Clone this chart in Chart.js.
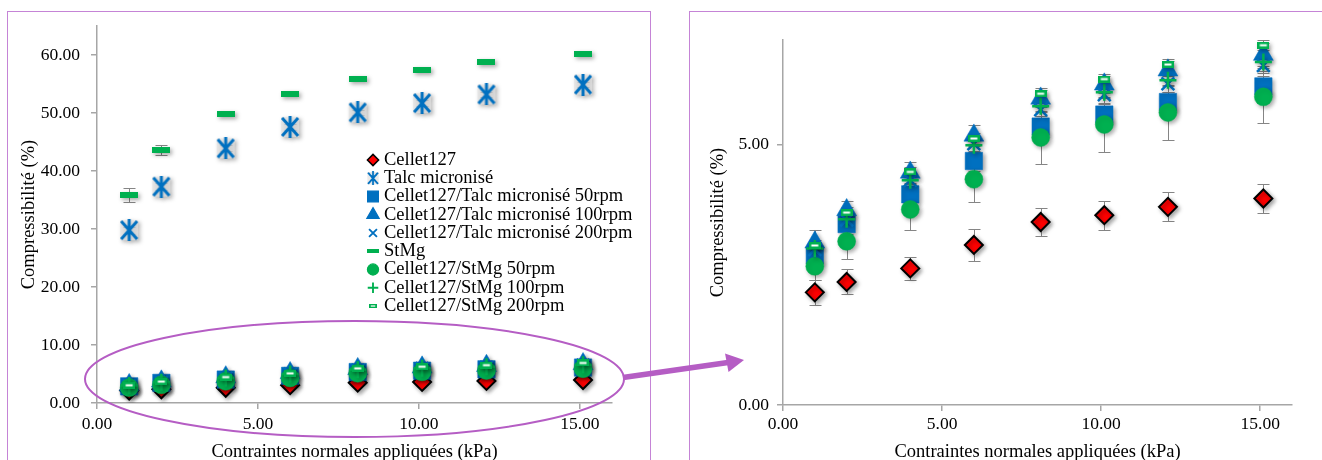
<!DOCTYPE html>
<html lang="fr">
<head>
<meta charset="utf-8">
<title>Compressibilité</title>
<script src="https://cdn.jsdelivr.net/npm/chart.js@4.4.1/dist/chart.umd.min.js"></script>
<style>
  html, body { margin: 0; padding: 0; background: #fff; }
  body { width: 1322px; height: 460px; overflow: hidden; position: relative; }
  .frame { position: absolute; border: 1.5px solid #c584d6; border-bottom: none; }
  #frameLeft { left: 7px; top: 11px; width: 642px; height: 470px; }
  #frameRight { left: 689px; top: 11px; width: 700px; height: 470px; border-right: none; }
  .chartBox { position: absolute; top: 0; height: 463px; }
  #boxLeft { left: 0; width: 660px; }
  #boxRight { left: 660px; width: 662px; }
  #overlay { position: absolute; left: 0; top: 0; pointer-events: none; }
</style>
</head>
<body>
<div class="frame" id="frameLeft"></div>
<div class="frame" id="frameRight"></div>
<div class="chartBox" id="boxLeft"><canvas id="chartLeft"></canvas></div>
<div class="chartBox" id="boxRight"><canvas id="chartRight"></canvas></div>
<svg id="overlay" width="1322" height="460">
  <ellipse cx="354.5" cy="379" rx="269.5" ry="58" fill="none" stroke="#b55dc4" stroke-width="2"/>
  <line x1="623" y1="377.5" x2="728" y2="362.5" stroke="#b55dc4" stroke-width="5.5"/>
  <polygon points="744,360 725,353.5 728.5,372" fill="#b55dc4"/>
</svg>
<script>
// applied normal stress (kPa)
const pressures = [1, 2, 4, 6, 8.1, 10.1, 12.1, 15.1];

const seriesNames = [
  'Cellet127',
  'Talc micronisé',
  'Cellet127/Talc micronisé 50rpm',
  'Cellet127/Talc micronisé 100rpm',
  'Cellet127/Talc micronisé 200rpm',
  'StMg',
  'Cellet127/StMg 50rpm',
  'Cellet127/StMg 100rpm',
  'Cellet127/StMg 200rpm'
];

// compressibility (%) and standard deviations
const cellet127 = [2.16, 2.36, 2.62, 3.07, 3.51, 3.64, 3.80, 3.96];
const cellet127Err = [0.24, 0.24, 0.22, 0.30, 0.27, 0.28, 0.28, 0.27];
const talc = [29.8, 37.3, 43.9, 47.6, 50.1, 51.7, 53.2, 54.9];
const talcErr = [0.6, 0.6, 0.5, 0.5, 0.5, 0.5, 0.5, 0.5];
const talc50 = [2.87, 3.47, 4.04, 4.68, 5.34, 5.57, 5.81, 6.11];
const talc50Err = [0.22, 0.2, 0.2, 0.2, 0.2, 0.2, 0.2, 0.2];
const talc100 = [3.12, 3.74, 4.46, 5.17, 5.88, 6.15, 6.42, 6.72];
const talc100Err = [0.24, 0.17, 0.2, 0.2, 0.17, 0.16, 0.18, 0.22];
const talc200 = [2.98, 3.55, 4.31, 5.01, 5.66, 5.95, 6.16, 6.51];
const talc200Err = [0.15, 0.15, 0.15, 0.15, 0.15, 0.15, 0.15, 0.15];
const stmg = [35.9, 43.6, 49.9, 53.3, 55.9, 57.5, 58.75, 60.2];
const stmgErr = [1.25, 0.8, 0.4, 0.4, 0.3, 0.3, 0.3, 0.3];
const stmg50 = [2.66, 3.14, 3.75, 4.33, 5.13, 5.38, 5.61, 5.91];
const stmg50Err = [0.27, 0.34, 0.40, 0.44, 0.50, 0.53, 0.53, 0.50];
const stmg100 = [3.00, 3.56, 4.31, 4.98, 5.73, 6.00, 6.23, 6.58];
const stmg100Err = [0.12, 0.12, 0.12, 0.12, 0.12, 0.12, 0.12, 0.12];
const stmg200 = [3.06, 3.69, 4.47, 5.11, 5.97, 6.25, 6.53, 6.90];
const stmg200Err = [0.1, 0.1, 0.1, 0.1, 0.1, 0.1, 0.1, 0.1];

const seriesValues = [cellet127, talc, talc50, talc100, talc200, stmg, stmg50, stmg100, stmg200];
const seriesErrors = [cellet127Err, talcErr, talc50Err, talc100Err, talc200Err, stmgErr, stmg50Err, stmg100Err, stmg200Err];

const xTitle = 'Contraintes normales appliquées (kPa)';
const yTitle = 'Compressibilité (%)';

const BLUE = '#0070c0';
const GREEN = '#00b050';
const AXIS = '#a6a6a6';
const FONT = '"Liberation Serif", "Times New Roman", serif';

// custom marker pictures
function markerCanvas(w, h, paint) {
  const c = document.createElement('canvas');
  c.width = w; c.height = h;
  paint(c.getContext('2d'));
  return c;
}
const asterisk = markerCanvas(20, 22, function(g) {
  g.fillStyle = 'rgba(225,225,225,0.7)';
  g.fillRect(1, 1, 18, 20);
  g.strokeStyle = BLUE; g.lineWidth = 3;
  g.beginPath();
  g.moveTo(2, 2); g.lineTo(18, 20);
  g.moveTo(18, 2); g.lineTo(2, 20);
  g.moveTo(10, 0); g.lineTo(10, 22);
  g.stroke();
});
const longDash = markerCanvas(18, 6, function(g) {
  g.fillStyle = GREEN; g.fillRect(0, 0, 18, 6);
});
const boxDash = markerCanvas(12, 7, function(g) {
  g.fillStyle = GREEN; g.fillRect(0, 0, 12, 7);
  g.fillStyle = '#fff'; g.fillRect(2.5, 2.5, 7, 2);
});

const markerStyles = [
  { pointStyle: 'rectRot', pointRadius: 9, pointBackgroundColor: '#ff0000', pointBorderColor: '#000', pointBorderWidth: 2 },
  { pointStyle: asterisk, pointRadius: 10, pointBackgroundColor: BLUE, pointBorderColor: BLUE, pointBorderWidth: 0 },
  { pointStyle: 'rect', pointRadius: 12.3, pointBackgroundColor: BLUE, pointBorderColor: BLUE, pointBorderWidth: 0.5 },
  { pointStyle: 'triangle', pointRadius: 11.5, pointBackgroundColor: BLUE, pointBorderColor: BLUE, pointBorderWidth: 0.5 },
  { pointStyle: 'crossRot', pointRadius: 9, pointBackgroundColor: BLUE, pointBorderColor: BLUE, pointBorderWidth: 2.5 },
  { pointStyle: longDash, pointRadius: 9, pointBackgroundColor: GREEN, pointBorderColor: GREEN, pointBorderWidth: 0 },
  { pointStyle: 'circle', pointRadius: 9, pointBackgroundColor: GREEN, pointBorderColor: GREEN, pointBorderWidth: 0.5 },
  { pointStyle: 'cross', pointRadius: 8.5, pointBackgroundColor: GREEN, pointBorderColor: GREEN, pointBorderWidth: 2.5 },
  { pointStyle: boxDash, pointRadius: 6, pointBackgroundColor: GREEN, pointBorderColor: GREEN, pointBorderWidth: 0 }
];

function buildDatasets(indices) {
  return indices.map(function(i) {
    return Object.assign({
      label: seriesNames[i],
      data: pressures.map(function(p, j) { return { x: p, y: seriesValues[i][j] }; }),
      errors: seriesErrors[i],
      order: -i
    }, markerStyles[i]);
  });
}

// error bars under the markers, then an Excel-like soft shadow for the markers
const errorBars = {
  id: 'errorBars',
  beforeDatasetsDraw(chart) {
    const ctx = chart.ctx, xs = chart.scales.x, ys = chart.scales.y;
    ctx.save();
    ctx.strokeStyle = '#858585';
    ctx.lineWidth = 1;
    chart.data.datasets.forEach(function(ds) {
      ds.data.forEach(function(p, j) {
        const e = ds.errors[j];
        const px = Math.round(xs.getPixelForValue(p.x)) + 0.5;
        const top = Math.round(ys.getPixelForValue(p.y + e)) + 0.5;
        const bot = Math.round(ys.getPixelForValue(p.y - e)) + 0.5;
        ctx.beginPath();
        ctx.moveTo(px, top); ctx.lineTo(px, bot);
        ctx.moveTo(px - 6, top); ctx.lineTo(px + 6, top);
        ctx.moveTo(px - 6, bot); ctx.lineTo(px + 6, bot);
        ctx.stroke();
      });
    });
    ctx.shadowColor = 'rgba(0,0,0,0.35)';
    ctx.shadowBlur = 4;
    ctx.shadowOffsetX = 2;
    ctx.shadowOffsetY = 2;
  },
  afterDatasetsDraw(chart) {
    chart.ctx.restore();
  }
};

// legend sitting inside the plot of the left chart
const insideLegend = {
  id: 'insideLegend',
  afterDraw(chart, args, opts) {
    const ctx = chart.ctx;
    ctx.save();
    ctx.font = '18.5px ' + FONT;
    ctx.textBaseline = 'middle';
    ctx.fillStyle = '#000';
    chart.data.datasets.forEach(function(ds, i) {
      const y = opts.top + i * opts.step;
      const k = 0.62;
      ctx.save();
      ctx.fillStyle = ds.pointBackgroundColor;
      ctx.strokeStyle = ds.pointBorderColor;
      ctx.lineWidth = ds.pointBorderWidth ? Math.max(1.2, ds.pointBorderWidth * 0.75) : 0;
      if (typeof ds.pointStyle !== 'string') {
        const s = ds.pointStyle;
        ctx.drawImage(s, opts.markerX - s.width * k / 2, y - s.height * k / 2, s.width * k, s.height * k);
      } else {
        Chart.helpers.drawPoint(ctx, {
          pointStyle: ds.pointStyle, radius: ds.pointRadius * k,
          borderWidth: ctx.lineWidth, rotation: 0
        }, opts.markerX, y);
      }
      ctx.restore();
      ctx.fillText(ds.label, opts.textX, y);
    });
    ctx.restore();
  }
};

function makeOptions(cfg) {
  const tickFont = { family: FONT, size: 17.5 };
  const titleFont = { family: FONT, size: 18.5 };
  return {
    responsive: true,
    maintainAspectRatio: false,
    animation: false,
    events: [],
    layout: { padding: cfg.padding },
    plugins: {
      legend: { display: false },
      tooltip: { enabled: false },
      insideLegend: cfg.legend || false
    },
    scales: {
      x: {
        type: 'linear', min: 0, max: 16,
        afterFit: function(s) { s.height = cfg.xHeight; },
        ticks: { stepSize: 5, includeBounds: false, padding: cfg.xPad, color: '#000', font: tickFont,
                 maxRotation: 0, callback: function(v) { return v.toFixed(2); } },
        grid: { drawOnChartArea: false, drawTicks: true, tickLength: 6, color: AXIS, lineWidth: 1.5 },
        border: { color: AXIS, width: 1.5 },
        title: { display: true, text: xTitle, color: '#000', font: titleFont, padding: { top: 0, bottom: 0 } }
      },
      y: {
        type: 'linear', min: 0, max: cfg.yMax,
        afterFit: function(s) { s.width = cfg.yWidth; },
        ticks: { stepSize: cfg.yStep, includeBounds: false, padding: cfg.yPad, color: '#000', font: tickFont,
                 callback: function(v) { return v.toFixed(2); } },
        grid: { drawOnChartArea: false, drawTicks: true, tickLength: 6, color: AXIS, lineWidth: 1.5 },
        border: { color: AXIS, width: 1.5 },
        title: { display: true, text: yTitle, color: '#000', font: titleFont, padding: { top: cfg.yTitlePad, bottom: 0 } }
      }
    }
  };
}

new Chart(document.getElementById('chartLeft'), {
  type: 'scatter',
  data: { datasets: buildDatasets([0, 1, 2, 3, 4, 5, 6, 7, 8]) },
  options: makeOptions({
    padding: { left: 8, right: 48, top: 26, bottom: 0 },
    xHeight: 60, xPad: 5, yWidth: 89, yPad: 11, yTitlePad: 10,
    yMax: 65, yStep: 10,
    legend: { markerX: 373, textX: 384, top: 160, step: 18.25 }
  }),
  plugins: [errorBars, insideLegend]
});

new Chart(document.getElementById('chartRight'), {
  type: 'scatter',
  data: { datasets: buildDatasets([0, 2, 3, 4, 6, 7, 8]) },
  options: makeOptions({
    padding: { left: 30, right: 30, top: 40, bottom: 0 },
    xHeight: 58, xPad: 3, yWidth: 93, yPad: 8, yTitlePad: 17,
    yMax: 7, yStep: 5
  }),
  plugins: [errorBars]
});
</script>
</body>
</html>
